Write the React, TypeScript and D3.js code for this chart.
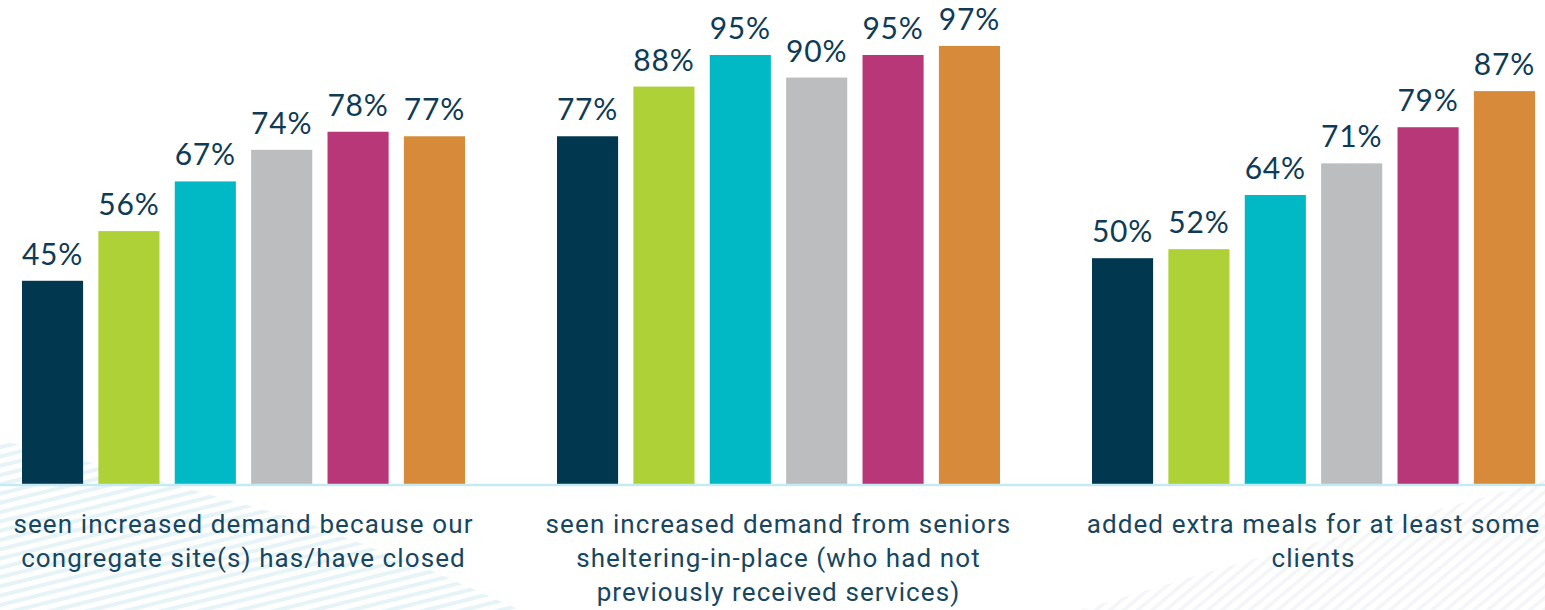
import React from "react";
import * as d3 from "d3";

const groups = [
  "seen increased demand because our|congregate site(s) has/have closed",
  "seen increased demand from seniors|sheltering-in-place (who had not|previously received services)",
  "added extra meals for at least some|clients",
];
const seriesKeys = ["s1", "s2", "s3", "s4", "s5", "s6"];
const seriesColors = ["#01374f", "#add136", "#00b9c5", "#bcbdbf", "#b83779", "#d78b3a"];
const values = [
  [45, 56, 67, 74, 78, 77],
  [77, 88, 95, 90, 95, 97],
  [50, 52, 64, 71, 79, 87],
];

const W = 1545;
const H = 610;

export default function App() {
  const x0 = d3.scaleBand<string>().domain(groups).range([-24, W + 36]).paddingInner(0);
  const x1 = d3.scaleBand<string>().domain(seriesKeys).range([46, 489]).paddingInner(0.2).paddingOuter(0);
  const y = d3.scaleLinear().domain([0, 100]).range([484, 32.4]);
  const baseY = y(0);

  const leftPoly = "0,440 120,470 300,520 430,570 520,610 0,610";
  const rightPoly = `${W},480 ${W},610 1080,610 1250,560 1400,520`;

  return (
    <div style={{ position: "absolute", left: 0, top: 0 }}>
      <svg width={W} height={H} style={{ display: "block", background: "#fff" }}>
        <defs>
          <pattern id="stripeL" width="9" height="9" patternUnits="userSpaceOnUse" patternTransform="rotate(-14)">
            <rect x="0" y="0" width="9" height="4" fill="#d6ecf1" />
          </pattern>
          <pattern id="stripeR" width="9" height="9" patternUnits="userSpaceOnUse" patternTransform="rotate(-40)">
            <rect x="0" y="0" width="9" height="3.5" fill="#eceef0" />
          </pattern>
        </defs>
        <polygon points={leftPoly} fill="url(#stripeL)" opacity={0.6} />
        <polygon points={rightPoly} fill="url(#stripeR)" opacity={0.6} />

        {groups.map((g, gi) => (
          <g key={g} transform={`translate(${x0(g)},0)`}>
            {seriesKeys.map((k, si) => {
              const v = values[gi][si];
              const bx = x1(k)!;
              const bw = x1.bandwidth();
              return (
                <g key={k}>
                  <rect x={bx} y={y(v)} width={bw} height={baseY - y(v)} fill={seriesColors[si]} />
                  <text
                    x={bx + bw / 2}
                    y={y(v) - 16}
                    textAnchor="middle"
                    fontFamily="Lato, 'Open Sans', sans-serif"
                    fontSize={30}
                    fill="#0e3b56"
                    letterSpacing={0.8}
                  >
                    {v}%
                  </text>
                </g>
              );
            })}
          </g>
        ))}

        <line x1={0} x2={W} y1={baseY + 1} y2={baseY + 1} stroke="#c6e9f6" strokeWidth={2.5} />

        {groups.map((g) => {
          const lines = g.split("|");
          return (
            <text
              key={g + "lbl"}
              textAnchor="middle"
              fontFamily="Roboto, 'Noto Sans', sans-serif"
              fontSize={26}
              fill="#174660"
              letterSpacing={1.1}
            >
              {lines.map((ln, i) => (
                <tspan key={i} x={x0(g)! + (46 + 489) / 2} y={533 + i * 34}>
                  {ln}
                </tspan>
              ))}
            </text>
          );
        })}
      </svg>
    </div>
  );
}
